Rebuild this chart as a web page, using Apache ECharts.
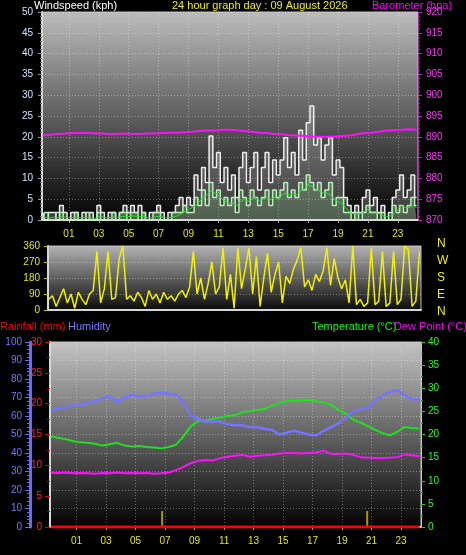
<!DOCTYPE html>
<html><head><meta charset="utf-8">
<script src="https://cdn.jsdelivr.net/npm/echarts@6/dist/echarts.min.js"></script>
<style>html,body{margin:0;padding:0;background:#000;}#c{width:466px;height:555px;}</style>
</head><body><div id="c"></div>
<script>
// ---- time bases (hours of the day) ----
const windHours = Array.from({length: 101}, (_, i) => -0.75 + i * 0.25);
const thermoHours = Array.from({length: 51}, (_, i) => -0.75 + i * 0.5);
const hourTicks = [1,3,5,7,9,11,13,15,17,19,21,23];
const hourLabels = ['01','03','05','07','09','11','13','15','17','19','21','23'];
const compassLabels = ['N','W','S','E','N'];

// ---- wind (kph) ----
const windGust = [1.8,0,1.8,1.8,0,3.5,1.8,0,1.8,1.8,
 0,1.8,0,1.8,0,3.5,1.8,0,1.8,1.8,
 0,1.8,3.5,1.8,3.5,1.8,3.5,1.8,0,1.8,
 1.8,3.5,1.8,0,1.8,1.8,3.5,5.4,3.5,5.4,
 3.5,10.8,7.2,12.6,9,20.2,12.6,16.2,9,12.6,
 7.2,10.8,5.4,12.6,16.2,9,12.6,16.2,7.2,12.6,
 16.2,9,14.4,10.8,14.4,19.8,12.6,16.2,10.8,21.6,
 14.4,23.4,27.4,18,19.8,14.4,18,19.8,10.8,14.4,
 12.6,5.4,3.5,1.8,3.5,1.8,5.4,7.2,3.5,5.4,
 1.8,3.5,0,1.8,5.4,7.2,10.8,5.4,7.2,10.8,
 5.4];
const windSpeed = [0,1.8,0,0,1.8,1.8,0,0,0,1.8,
 0,0,1.8,0,0,1.8,0,0,0,1.8,
 0,1.8,1.8,0,1.8,1.8,0,1.8,0,0,
 1.8,1.8,0,0,0,1.8,1.8,1.8,3.5,1.8,
 1.8,5.4,3.5,7.2,3.5,9,5.4,7.2,3.5,5.4,
 3.5,5.4,1.8,7.2,5.4,3.5,7.2,5.4,3.5,5.4,
 7.2,3.5,7.2,5.4,7.2,9,5.4,7.2,5.4,9,
 7.2,10.8,9,7.2,9,5.4,7.2,9,3.5,5.4,
 5.4,1.8,1.8,0,1.8,0,1.8,3.5,1.8,1.8,
 0,1.8,0,0,3.5,1.8,3.5,1.8,3.5,5.4,
 3.5];
const windAvg = [0.5,0.6,0.5,0.7,0.6,0.8,0.7,0.5,0.6,0.7,
 0.5,0.6,0.7,0.5,0.4,0.7,0.8,0.5,0.6,0.7,
 0.6,0.8,0.9,0.8,1.0,0.9,0.8,0.9,0.6,0.5,
 0.7,0.9,0.7,0.5,0.6,0.8,1.0,1.5,2.0,2.5,
 3.0,3.5,4.5,5.5,6.0,7.0,6.5,6.0,5.0,4.5,
 4.0,4.0,3.5,4.5,5.0,4.5,5.0,5.5,4.5,5.0,
 5.5,5.0,5.5,5.0,6.0,6.5,6.0,6.5,6.0,7.0,
 7.5,8.5,8.0,7.5,7.0,6.5,6.5,6.0,5.0,4.5,
 4.0,3.0,2.0,1.5,1.5,1.5,2.0,2.5,2.0,2.0,
 1.5,1.0,0.8,1.0,1.5,2.5,3.5,3.0,3.0,3.5,
 3.0];
// ---- wind direction (deg) ----
const windDir = [60,80,20,70,120,40,90,10,100,60,
 30,90,110,330,40,120,330,60,70,290,
 360,60,80,50,100,70,20,110,60,90,
 40,100,60,80,50,90,110,70,130,330,
 90,180,60,150,270,90,130,350,60,200,
 10,350,120,230,350,90,300,20,180,320,
 100,200,270,40,190,150,230,280,350,130,
 170,110,200,160,220,350,140,290,180,120,
 170,40,360,30,60,20,40,350,30,50,
 330,20,40,330,30,60,360,340,20,50,
 330];
// ---- barometer (hPa) ----
const barometer = [890.4,890.5,890.7,890.8,890.9,890.9,891.0,890.8,890.8,890.6,
 890.7,890.8,890.7,890.7,890.8,890.8,890.9,891.0,891.0,891.1,
 891.2,891.4,891.5,891.5,891.7,891.7,891.6,891.4,891.2,891.0,
 890.9,890.7,890.6,890.4,890.3,890.2,890.1,890.0,890.0,890.1,
 890.2,890.3,890.6,890.9,891.0,891.2,891.5,891.6,891.7,891.8,
 891.7];
// ---- thermo ----
const humidity = [63,64,64.5,66,66,67,68,69.5,71,67.5,
 70,71.5,70.5,71,72,72.5,72,71.5,67.5,60,
 58.5,57,57,57,55.5,55,55,54,54,53,
 52.5,50,51,52,51,50,49.5,52,54,56,
 59,62.5,63.5,64.5,68.5,71,73,74,71,69,
 69];
const temperature = [19.6,19.3,19.0,18.6,18.3,18.2,18.0,17.6,17.9,18.2,
 17.6,17.4,17.5,17.3,17.2,17.0,17.3,17.8,19.6,21.8,
 22.9,23.1,23.4,23.6,24.0,24.2,24.8,25.1,25.3,25.5,
 26.2,26.8,27.2,27.3,27.4,27.5,27.2,27.0,26.4,25.3,
 24.6,23.2,22.6,21.8,21.0,20.3,19.8,20.6,21.6,21.4,
 21.3];
const dewPoint = [11.8,11.7,11.8,11.6,11.7,11.6,11.5,11.7,11.6,11.8,
 11.6,11.7,11.6,11.7,11.5,11.6,11.8,12.3,13.0,13.8,
 14.3,14.5,14.4,14.9,15.2,15.4,15.6,15.2,15.4,15.5,
 15.6,15.9,16.0,16.0,15.9,16.0,16.1,16.5,15.8,15.8,
 15.9,15.6,15.1,15.0,14.9,14.9,15.0,15.1,15.7,15.5,
 15.3];
const rainHours = [-0.75, 24.25];
const rainfall = [0, 0];
const markerHours = [6.8, 20.7];
const markerValues = [2.6, 2.6];

const pair = (xs, ys) => xs.map((x, i) => [x, ys[i]]);
const FONT = 'Liberation Sans';
const grad = (a, b) => new echarts.graphic.LinearGradient(0, 0, 0, 1, [{offset: 0, color: a}, {offset: 1, color: b}]);
const dotted = {color: 'rgba(255,255,255,0.35)', type: [1, 2], width: 1};

function xAxis(grid, showLabels) {
  return {
    type: 'value', gridIndex: grid, min: -0.8, max: 24.35,
    axisLine: {show: true, onZero: false, lineStyle: {color: '#d8d8d8', width: 2}},
    axisTick: {show: showLabels, customValues: hourTicks, length: 3, lineStyle: {color: '#aaa'}},
    axisLabel: {show: showLabels, customValues: hourTicks, color: '#e8e800', fontSize: 10, fontFamily: FONT, margin: 9,
      formatter: v => hourLabels[hourTicks.indexOf(Math.round(v))] || ''},
    splitLine: {show: grid !== 1, lineStyle: dotted}
  };
}

const chart = echarts.init(document.getElementById('c'));
chart.setOption({
  animation: false,
  backgroundColor: '#000',
  grid: [
    {left: 42, right: 48, top: 12, height: 208, show: true, backgroundColor: grad('#bcbcbc', '#020202'), borderColor: '#bbb', borderWidth: 1},
    {left: 48, right: 45, top: 246, height: 64, show: true, backgroundColor: grad('#b4b4b4', '#0a0a0a'), borderColor: '#bbb', borderWidth: 1},
    {left: 50, right: 45, top: 342, height: 185, show: true, backgroundColor: grad('#c4c4c4', '#020202'), borderColor: '#bbb', borderWidth: 1}
  ],
  xAxis: [xAxis(0, true), xAxis(1, false), xAxis(2, true)],
  yAxis: [
    {type: 'value', gridIndex: 0, min: 0, max: 50, interval: 5,
      axisLine: {show: true, onZero: false, lineStyle: {color: '#d8d8d8', width: 2}},
      axisTick: {show: true, length: 4, lineStyle: {color: '#999'}},
      minorTick: {show: true, splitNumber: 5, length: 2, lineStyle: {color: '#777'}},
      axisLabel: {color: '#d0e4ff', fontSize: 10, fontFamily: FONT, margin: 9},
      splitLine: {show: true, lineStyle: dotted}},
    {type: 'value', gridIndex: 0, position: 'right', min: 870, max: 920, interval: 5,
      axisLine: {show: true, onZero: false, lineStyle: {color: '#b020b0', width: 1, type: [1, 1]}},
      axisTick: {show: true, length: 4, lineStyle: {color: '#c020c0'}},
      minorTick: {show: true, splitNumber: 5, length: 2, lineStyle: {color: '#a020a0'}},
      axisLabel: {color: '#ff30ff', fontSize: 10, fontFamily: FONT, margin: 8},
      splitLine: {show: false}},
    {type: 'value', gridIndex: 1, min: 0, max: 360, interval: 90,
      axisLine: {show: true, onZero: false, lineStyle: {color: '#d8d8d8', width: 2}},
      axisTick: {show: true, length: 4, lineStyle: {color: '#c8c800'}},
      axisLabel: {color: '#e8e800', fontSize: 10, fontFamily: FONT, margin: 8},
      splitLine: {show: true, lineStyle: dotted}},
    {type: 'value', gridIndex: 2, position: 'left', offset: 20, min: 0, max: 100, interval: 10,
      axisLine: {show: true, onZero: false, lineStyle: {color: '#6a6aff', width: 3}},
      axisTick: {show: true, length: 5, lineStyle: {color: '#6a6aff'}},
      minorTick: {show: true, splitNumber: 5, length: 3, lineStyle: {color: '#6a6aff'}},
      axisLabel: {color: '#7777ff', fontSize: 10, fontFamily: FONT, margin: 8},
      splitLine: {show: true, lineStyle: dotted}},
    {type: 'value', gridIndex: 2, position: 'left', offset: 0, min: 0, max: 30, interval: 5,
      axisLine: {show: true, onZero: false, lineStyle: {color: '#d8d8d8', width: 2}},
      axisTick: {show: true, length: 5, lineStyle: {color: '#e00000'}},
      minorTick: {show: true, splitNumber: 2, length: 3, lineStyle: {color: '#c00000'}},
      axisLabel: {color: '#ff2020', fontSize: 10, fontFamily: FONT, margin: 8},
      splitLine: {show: false}},
    {type: 'value', gridIndex: 2, position: 'right', min: 0, max: 40, interval: 5,
      axisLine: {show: true, onZero: false, lineStyle: {color: '#c8c8c8', width: 1}},
      axisTick: {show: true, length: 4, lineStyle: {color: '#20d020'}},
      minorTick: {show: true, splitNumber: 2, length: 2, lineStyle: {color: '#20a020'}},
      axisLabel: {color: '#20ff20', fontSize: 10, fontFamily: FONT, margin: 7},
      splitLine: {show: false}}
  ],
  series: [
    {name: 'Gust', type: 'line', xAxisIndex: 0, yAxisIndex: 0, step: 'middle', symbol: 'none',
      data: pair(windHours, windGust), lineStyle: {color: '#eeeeee', width: 1.5},
      areaStyle: {color: 'rgba(225,225,225,0.35)'}},
    {name: 'Speed', type: 'line', xAxisIndex: 0, yAxisIndex: 0, step: 'middle', symbol: 'none',
      data: pair(windHours, windSpeed), lineStyle: {color: '#b8f0b8', width: 1.5},
      areaStyle: {color: 'rgba(170,235,170,0.3)'}},
    {name: 'Average', type: 'line', xAxisIndex: 0, yAxisIndex: 0, symbol: 'none',
      data: pair(windHours, windAvg), lineStyle: {color: '#30e030', width: 1}},
    {name: 'Barometer', type: 'line', xAxisIndex: 0, yAxisIndex: 1, symbol: 'none',
      data: pair(thermoHours, barometer), lineStyle: {color: '#ff10ff', width: 2}},
    {name: 'Direction', type: 'line', xAxisIndex: 1, yAxisIndex: 2, symbol: 'none',
      data: pair(windHours, windDir), lineStyle: {color: '#f0f000', width: 1.5}},
    {name: 'Markers', type: 'bar', xAxisIndex: 2, yAxisIndex: 4, barWidth: 2,
      data: pair(markerHours, markerValues), itemStyle: {color: '#a89800'}},
    {name: 'Rainfall', type: 'line', xAxisIndex: 2, yAxisIndex: 4, symbol: 'none',
      data: pair(rainHours, rainfall), lineStyle: {color: '#ff0000', width: 3}},
    {name: 'Dew Point', type: 'line', xAxisIndex: 2, yAxisIndex: 5, symbol: 'none',
      data: pair(thermoHours, dewPoint), lineStyle: {color: '#ff10ff', width: 2}},
    {name: 'Temperature', type: 'line', xAxisIndex: 2, yAxisIndex: 5, symbol: 'none',
      data: pair(thermoHours, temperature), lineStyle: {color: '#20e020', width: 2}},
    {name: 'Humidity', type: 'line', xAxisIndex: 2, yAxisIndex: 3, symbol: 'none',
      data: pair(thermoHours, humidity), lineStyle: {color: '#7474ff', width: 2.5}}
  ],
  graphic: [
    {type: 'text', left: 34, top: 0, style: {text: 'Windspeed (kph)', fill: '#ffffff', font: '11px ' + FONT}},
    {type: 'text', left: 172, top: 0, style: {text: '24 hour graph day : 09 August 2026', fill: '#f0f000', font: '11px ' + FONT}},
    {type: 'text', left: 372, top: 0, style: {text: 'Barometer (hpa)', fill: '#ff00ff', font: '11px ' + FONT}},
    {type: 'text', left: 0, top: 321, style: {text: 'Rainfall (mm)', fill: '#ff0000', font: '11px ' + FONT}},
    {type: 'text', left: 68, top: 321, style: {text: 'Humidity', fill: '#7b7bff', font: '11px ' + FONT}},
    {type: 'text', left: 312, top: 321, style: {text: 'Temperature (°C)', fill: '#00ff00', font: '11px ' + FONT}},
    {type: 'text', left: 394, top: 321, style: {text: 'Dew Point (°C)', fill: '#ff00ff', font: '11px ' + FONT}}
  ].concat(compassLabels.map((t, i) => ({type: 'text', left: 437, top: 238 + i * 17, style: {text: t, fill: '#f0f000', font: '12px ' + FONT}})))
});
</script></body></html>
